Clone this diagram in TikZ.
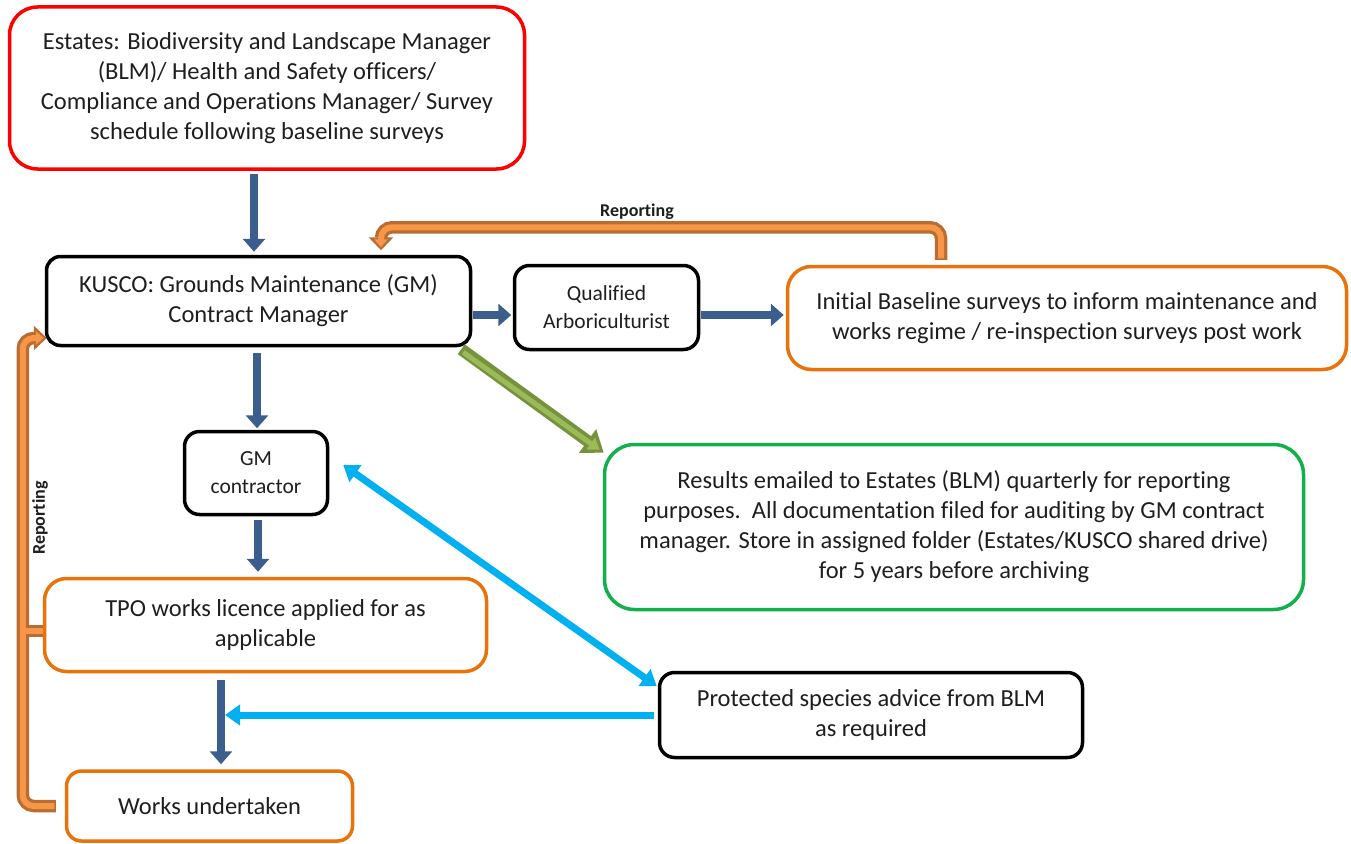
\documentclass[tikz,border=0pt]{standalone}
\usepackage{fontspec}
\setmainfont[Ligatures=NoCommon]{Carlito}
\usetikzlibrary{arrows.meta,calc}
\definecolor{arrblue}{HTML}{3B5E8C}
\definecolor{boxorange}{HTML}{E8720C}
\definecolor{boxgreen}{HTML}{12B04B}
\definecolor{boxred}{HTML}{FF0000}
\definecolor{cyanarr}{HTML}{00B0F0}
\definecolor{tubedark}{HTML}{B96D33}
\definecolor{tubelight}{HTML}{F79646}
\definecolor{greendark}{HTML}{76923C}
\definecolor{greenlight}{HTML}{9BBB59}
\definecolor{txt}{HTML}{1E1E1E}
\begin{document}
\begin{tikzpicture}[x=1pt,y=-1pt,
  box/.style={draw, line width=3.5pt, align=center, inner sep=0pt, text=txt,
    font=\fontsize{24.5}{30}\selectfont},
  smallbox/.style={box, font=\fontsize{21.5}{28}\selectfont},
  bluearr/.style={draw=arrblue, line width=8pt, -{Triangle[length=13pt,width=22pt]}},
  cyanarrow/.style={draw=cyanarr, line width=7pt},
  greenout/.style={draw=greendark, fill=greendark, line width=12pt, -{Triangle[length=20pt,width=28pt]}},
  greenin/.style={draw=greenlight, fill=greenlight, line width=5pt, shorten >=5pt, -{Triangle[length=11pt,width=14pt]}},
  tubeout/.style={draw=tubedark, line width=12.5pt, rounded corners=11pt},
  tubein/.style={draw=tubelight, line width=6pt, rounded corners=11pt},
  tubeouttip/.style={-{Triangle[length=13pt,width=24pt]}},
  tubeintip/.style={shorten >=3pt, -{Triangle[length=8pt,width=13pt]}},
  replabel/.style={font=\fontsize{18}{20}\selectfont\bfseries, text=txt, inner sep=0pt}
]
\useasboundingbox (0,0) rectangle (1351,843);

% boxes
\node[box, draw=boxred, rounded corners=28pt, minimum width=515pt, minimum height=162pt] (est) at (267,88)
  {Estates: Biodiversity and Landscape Manager\\(BLM)/ Health and Safety officers/\\Compliance and Operations Manager/ Survey\\schedule following baseline surveys};
\node[box, draw=black, rounded corners=14pt, minimum width=424pt, minimum height=89pt] (kusco) at (258.5,301)
  {KUSCO: Grounds Maintenance (GM)\\Contract Manager};
\node[smallbox, draw=black, rounded corners=15pt, minimum width=184pt, minimum height=84pt] (qual) at (606.5,307.5)
  {Qualified\\Arboriculturist};
\node[box, draw=boxorange, rounded corners=24pt, minimum width=559pt, minimum height=103pt] (init) at (1067,318)
  {Initial Baseline surveys to inform maintenance and\\works regime / re-inspection surveys post work};
\node[smallbox, draw=black, rounded corners=15pt, minimum width=143pt, minimum height=83pt] (gmc) at (256,473)
  {GM\\contractor};
\node[box, draw=boxgreen, rounded corners=30pt, minimum width=699pt, minimum height=165pt] (res) at (954,527)
  {Results emailed to Estates (BLM) quarterly for reporting\\purposes.\ \ All documentation filed for auditing by GM contract\\manager. Store in assigned folder (Estates/KUSCO shared drive)\\for 5 years before archiving};
\node[box, draw=boxorange, rounded corners=22pt, minimum width=442pt, minimum height=93pt] (tpo) at (265.5,625)
  {TPO works licence applied for as\\applicable};
\node[box, draw=black, rounded corners=15pt, minimum width=423pt, minimum height=85pt] (prot) at (871,715)
  {Protected species advice from BLM\\as required};
\node[box, draw=boxorange, rounded corners=15pt, minimum width=286pt, minimum height=70pt] (works) at (209.5,806)
  {Works undertaken};

% blue arrows
\draw[bluearr] ([xshift=-13pt,yshift=-3pt]est.south) -- ([xshift=-4.5pt,yshift=3pt]kusco.north);
\draw[bluearr] ([xshift=-1.5pt,yshift=-6pt]kusco.south) -- ([xshift=1pt,yshift=1.5pt]gmc.north);
\draw[bluearr] ([xshift=2pt,yshift=-4pt]gmc.south) -- ([xshift=-7.5pt,yshift=5pt]tpo.north);
\draw[bluearr] ([xshift=-44.5pt,yshift=-7pt]tpo.south) -- ([xshift=11.5pt,yshift=5pt]works.north);
\draw[bluearr] ([xshift=0.5pt,yshift=-14pt]kusco.east) -- ([xshift=-1.5pt,yshift=-7.5pt]qual.west);
\draw[bluearr] ([xshift=1pt,yshift=-7.5pt]qual.east) -- ([xshift=-2pt,yshift=3pt]init.west);

% green arrow
\draw[greenout] ([xshift=-11pt,yshift=-2pt]kusco.south east) -- ([xshift=1pt,yshift=-10pt]res.north west);
\draw[greenin] ([xshift=-9pt,yshift=-5pt]kusco.south east) -- ([xshift=1pt,yshift=-10pt]res.north west);

% cyan arrows
\draw[cyanarrow, {Triangle[length=15pt,width=20pt]}-{Triangle[length=15pt,width=20pt]}]
  ([xshift=14pt,yshift=8pt]gmc.east) -- ([xshift=-1pt,yshift=-15.5pt]prot.north west);
\draw[cyanarrow, -{Triangle[length=15pt,width=20pt]}]
  ([xshift=-4pt]prot.west) -- ($(prot.west -| tpo.south)+(-40.5,0)$);

% orange reporting tubes
\coordinate (ttop) at ($(kusco.north)+(122.5,-27.5)$);
\coordinate (ttip) at ([xshift=122.5pt,yshift=4.5pt]kusco.north);
\coordinate (tstart) at ([xshift=-126pt,yshift=5pt]init.north);
\coordinate (lb) at ($(works.west)+(-42,0)$);
\coordinate (lstart) at ([xshift=-9pt]works.west);
\coordinate (ltip) at ($(kusco.west)+(2,37)$);
\coordinate (tbr) at ([yshift=-6pt]tpo.west);
\coordinate (tbl) at ($(tpo.west)+(-20,6)$);

\draw[tubeout, tubeouttip] (tstart) |- (ttop) -- (ttip);
\draw[tubeout, tubeouttip] (lstart) -- (lb) |- (ltip);
\draw[tubeout] (tbr) -- (tbl);
\draw[tubein, tubeintip, shorten <=1.5pt] (tstart) |- (ttop) -- (ttip);
\draw[tubein, tubeintip, shorten <=1.5pt] (lstart) -- (lb) |- (ltip);
\draw[tubein] (tbr) -- (tbl);

\node[replabel] (rtop) at (637,212) {Reporting};
\node[replabel, rotate=90] (rleft) at (40,518) {Reporting};
\end{tikzpicture}
\end{document}
